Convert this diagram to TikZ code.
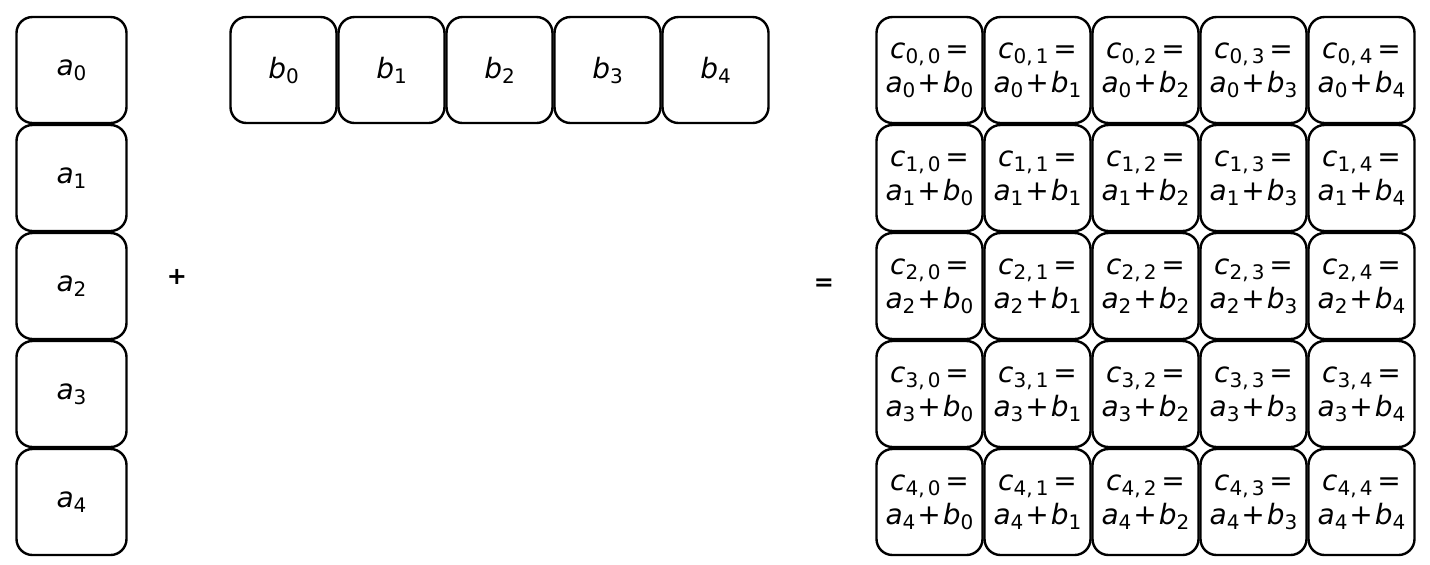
\documentclass[tikz,border=0pt]{standalone}
\usepackage{fontspec}
\setmainfont{DejaVu Sans}
\usetikzlibrary{positioning, calc}
\tikzset{
    cell/.style={draw, line width=1.2pt, rounded corners=8pt, minimum width=53pt, minimum height=53pt,
        inner sep=0pt, outer sep=0pt, align=center, font=\fontsize{14}{16.5}\selectfont},
    acell/.style={cell, minimum width=55pt},
    opsign/.style={font=\bfseries\fontsize{12}{14}\selectfont},
}
% italic letter with an upright index below it
\newcommand{\vv}[2]{\textit{#1}\raisebox{-2.5pt}{\fontsize{10}{11}\selectfont #2}}

\begin{document}
\begin{tikzpicture}
    \useasboundingbox (0,0) rectangle (715pt,-282pt);

    % column vector a
    \node[acell] (a0) at (35.75pt,-35pt) {\vv{a}{0}};
    \foreach \i [remember=\i as \prev (initially 0)] in {1,...,4}
        \node[acell, below=1pt of a\prev] (a\i) {\vv{a}{\i}};

    % row vector b
    \node[cell, right=52pt of a0] (b0) {\vv{b}{0}};
    \foreach \j [remember=\j as \prev (initially 0)] in {1,...,4}
        \node[cell, right=1pt of b\prev] (b\j) {\vv{b}{\j}};

    % result grid c
    \foreach \i in {0,...,4}
        \foreach \j in {0,...,4}
            \node[cell] (c\i\j) at ($(b0)+(323pt+\j*54pt,-\i*54pt)$)
                {\vv{c}{\i,\,\j}\,=\\[0.5pt]\vv{a}{\i}\kern1pt+\kern1pt\vv{b}{\j}};

    \node[opsign] (plus) at (88.5pt,-138.5pt) {+};
    \node[opsign] (equals) at (412pt,-142.5pt) {=};
\end{tikzpicture}
\end{document}
